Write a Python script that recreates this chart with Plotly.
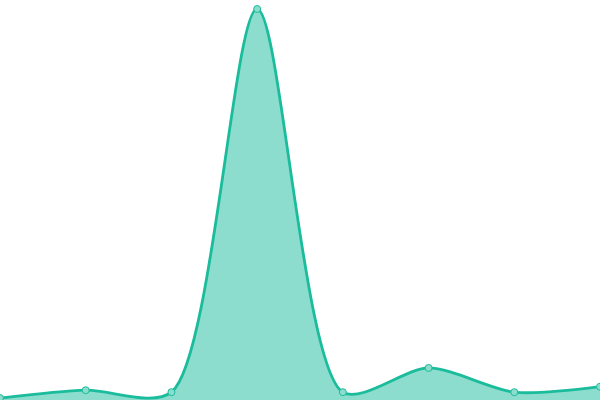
import plotly.graph_objects as go

# values (peak normalised to 100)
x_vals = [0, 1, 2, 3, 4, 5, 6, 7]
y_vals = [0.5, 2.5, 2.0, 100, 2.0, 8.2, 2.0, 3.4]

line_color = '#1abc9c'

fig = go.Figure()
fig.add_trace(go.Scatter(
    x = x_vals,
    y = y_vals,
    mode = 'lines+markers',
    line = dict(color=line_color, width=2.8, shape='spline', smoothing=0.8),
    marker = dict(size=7, color='rgba(140,221,205,1)', line=dict(color=line_color, width=1)),
    fill = 'tozeroy',
    fillcolor = 'rgba(26,188,156,0.5)',
    showlegend = False,
    hoverinfo = 'skip'
))

fig.update_xaxes(visible=False, range=[0, 7])
fig.update_yaxes(visible=False, range=[0, 102.3])
fig.update_layout(
    template = 'simple_white',
    width = 600, height = 400,
    margin = dict(l=0, r=0, t=0, b=0),
    plot_bgcolor = 'white', paper_bgcolor = 'white'
)
# drop the browser's default body margin so the plot sits at 0,0
fig.write_html('out.html', config={'displayModeBar': False},
               post_script="document.body.style.margin='0';")
